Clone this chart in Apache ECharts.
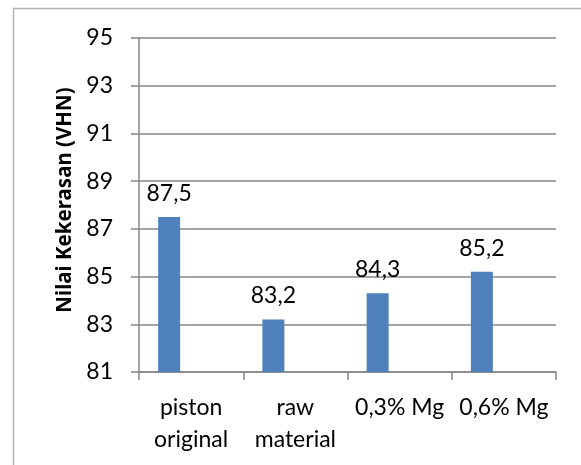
<!DOCTYPE html>
<html>
<head>
<meta charset="utf-8">
<script src="https://cdn.jsdelivr.net/npm/echarts@6/dist/echarts.min.js"></script>
<style>
  html, body { margin: 0; padding: 0; background: #fff; }
  #chart { width: 581px; height: 465px; }
</style>
</head>
<body>
<div id="chart"></div>
<script>
// Hardness values per sample (VHN)
const categories = ['piston\noriginal', 'raw\nmaterial', '0,3% Mg', '0,6% Mg'];
const hardness = [87.5, 83.2, 84.3, 85.2];
const yMin = 81;
const yMax = 95;
const yStep = 2;

const FONT = 'Lato, "Open Sans", sans-serif';
const TITLE_FONT = '"Noto Sans", "Open Sans", sans-serif';
const GRID_COLOR = '#868686';
const BAR_COLOR = '#4F81BD';

const chart = echarts.init(document.getElementById('chart'), null, { renderer: 'canvas' });

// Empty placeholder series keep the bar in the left third of each slot
const emptySeries = categories.map(() => null);

chart.setOption({
  animation: false,
  backgroundColor: '#ffffff',
  graphic: [{
    type: 'rect',
    shape: { x: 13.5, y: 8.5, width: 700, height: 700 },
    style: { fill: 'none', stroke: '#b4b4b4', lineWidth: 1.5 },
    silent: true
  }],
  grid: { left: 139, right: 25, top: 38, bottom: 93 },
  xAxis: {
    type: 'category',
    data: categories,
    boundaryGap: true,
    axisLine: { lineStyle: { color: GRID_COLOR, width: 1.5 } },
    axisTick: { show: true, length: 8, alignWithLabel: false, lineStyle: { color: GRID_COLOR, width: 1.5 } },
    axisLabel: { color: '#000', fontFamily: FONT, fontSize: 23, lineHeight: 32, margin: 20, interval: 0 }
  },
  yAxis: {
    type: 'value',
    min: yMin,
    max: yMax,
    interval: yStep,
    name: 'Nilai Kekerasan (VHN)',
    nameLocation: 'middle',
    nameGap: 62,
    nameTextStyle: {
      color: '#000', fontFamily: TITLE_FONT, fontSize: 20.5, fontWeight: 'bold',
      padding: [0, 0, 0, 10]
    },
    axisLine: { show: true, lineStyle: { color: GRID_COLOR, width: 1.5 } },
    axisTick: { show: true, length: 8, lineStyle: { color: GRID_COLOR, width: 1.5 } },
    axisLabel: { color: '#000', fontFamily: FONT, fontSize: 23, margin: 26 },
    splitLine: { show: true, lineStyle: { color: GRID_COLOR, width: 1.5 } }
  },
  series: [
    {
      type: 'bar',
      data: hardness,
      barWidth: 22,
      barGap: '0%',
      itemStyle: { color: BAR_COLOR },
      label: {
        show: true,
        position: 'top',
        distance: 12,
        color: '#000',
        fontFamily: FONT,
        fontSize: 23,
        formatter: p => String(p.value).replace('.', ',')
      }
    },
    { type: 'bar', data: emptySeries, barWidth: 22, barGap: '0%' },
    { type: 'bar', data: emptySeries, barWidth: 22, barGap: '0%' }
  ]
});
</script>
</body>
</html>
